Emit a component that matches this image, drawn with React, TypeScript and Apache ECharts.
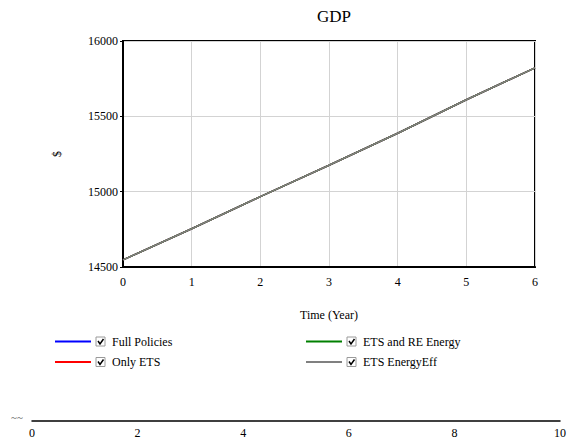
import React, { useEffect, useRef } from "react";
import * as echarts from "echarts";

const years = [0, 1, 2, 3, 4, 5, 6];
const fullPolicies = [14547, 14754, 14967, 15175, 15388, 15610, 15822];
const onlyETS = [14547, 14754, 14967, 15175, 15388, 15610, 15822];
const etsRE = [14547, 14754, 14967, 15175, 15388, 15610, 15822];
const etsEE = [14547, 14754, 14967, 15175, 15388, 15610, 15822];

const seriesNames = ["Full Policies", "Only ETS", "ETS and RE Energy", "ETS EnergyEff"];
const seriesColors = ["#0000ff", "#ff0000", "#008000", "#808080"];
const seriesData = [fullPolicies, onlyETS, etsRE, etsEE];

const FONT = "serif";

function legendItem(name: string, color: string, x: number, y: number) {
  return [
    {
      type: "line",
      shape: { x1: x, y1: y, x2: x + 36, y2: y },
      style: { stroke: color, lineWidth: 2 },
    },
    {
      type: "rect",
      shape: { x: x + 41, y: y - 4.5, width: 9, height: 9 },
      style: { fill: "#ffffff", stroke: "#9a9a9a", lineWidth: 1 },
    },
    {
      type: "polyline",
      shape: { points: [[x + 43, y - 0.5], [x + 45, y + 2.5], [x + 48.5, y - 2.5]] },
      style: { stroke: "#000000", lineWidth: 1.5, fill: null },
    },
    {
      type: "text",
      x: x + 57,
      y: y,
      style: {
        text: name,
        fill: "#000000",
        fontFamily: FONT,
        fontSize: 12,
        verticalAlign: "middle",
        align: "left",
      },
    },
  ];
}

export default function App() {
  const ref = useRef<HTMLDivElement>(null);

  useEffect(() => {
    if (!ref.current) return;
    const chart = echarts.init(ref.current, undefined, { renderer: "svg" });
    const legendPos = [
      [55, 341.5],
      [55, 362],
      [306, 341.5],
      [306, 362],
    ];
    const graphics: any[] = [];
    seriesNames.forEach((n, i) => {
      graphics.push(...legendItem(n, seriesColors[i], legendPos[i][0], legendPos[i][1]));
    });
    graphics.push({
      type: "text",
      x: 11,
      y: 417,
      style: { text: "~~", fill: "#555555", fontFamily: FONT, fontSize: 11, align: "left", verticalAlign: "middle" },
    });

    chart.setOption({
      animation: false,
      backgroundColor: "#ffffff",
      textStyle: { fontFamily: FONT },
      title: {
        text: "GDP",
        left: 329,
        top: 3,
        textAlign: "center",
        textStyle: { fontFamily: FONT, fontSize: 17, fontWeight: "normal", color: "#000" },
      },
      grid: [
        {
          left: 123,
          right: 36,
          top: 41,
          bottom: 173,
          show: true,
          borderColor: "#000",
          borderWidth: 2,
          backgroundColor: "transparent",
        },
        {
          left: 32,
          right: 11,
          top: 390,
          bottom: 19,
          show: false,
        },
      ],
      xAxis: [
        {
          gridIndex: 0,
          type: "value",
          min: 0,
          max: 6,
          interval: 1,
          name: "Time (Year)",
          nameLocation: "middle",
          nameGap: 42,
          nameTextStyle: { fontFamily: FONT, fontSize: 12, color: "#000" },
          axisLine: { show: true, lineStyle: { color: "#000", width: 2 } },
          axisTick: { show: false },
          axisLabel: { fontFamily: FONT, fontSize: 12, color: "#000", margin: 9 },
          splitLine: { show: true, lineStyle: { color: "#d3d3d3", width: 1 } },
        },
        {
          gridIndex: 1,
          type: "value",
          min: 0,
          max: 10,
          interval: 2,
          axisLine: { show: true, onZero: false, lineStyle: { color: "#000", width: 1.5 } },
          axisTick: { show: false },
          axisLabel: { fontFamily: FONT, fontSize: 12, color: "#000", margin: 6 },
          splitLine: { show: false },
        },
      ],
      yAxis: [
        {
          gridIndex: 0,
          type: "value",
          min: 14500,
          max: 16000,
          interval: 500,
          name: "$",
          nameLocation: "middle",
          nameGap: 60,
          nameRotate: 90,
          nameTextStyle: { fontFamily: FONT, fontSize: 12, color: "#000" },
          axisLine: { show: true, lineStyle: { color: "#000", width: 2 } },
          axisTick: { show: true, length: 3, lineStyle: { color: "#000", width: 1 } },
          axisLabel: {
            fontFamily: FONT,
            fontSize: 12,
            color: "#000",
            margin: 5,
            formatter: (v: number) => String(v),
          },
          splitLine: { show: true, lineStyle: { color: "#d3d3d3", width: 1 } },
        },
        {
          gridIndex: 1,
          type: "value",
          min: 0,
          max: 1,
          show: false,
        },
      ],
      series: [
        ...seriesNames.map((n, i) => ({
          name: n,
          type: "line",
          xAxisIndex: 0,
          yAxisIndex: 0,
          data: years.map((t, j) => [t, seriesData[i][j]]),
          showSymbol: false,
          lineStyle: { color: seriesColors[i], width: 1.5 },
          itemStyle: { color: seriesColors[i] },
          z: 2 + i,
        })),
        {
          name: "axis2",
          type: "line",
          xAxisIndex: 1,
          yAxisIndex: 1,
          data: [],
          showSymbol: false,
        },
      ],
      graphic: graphics,
    });
    return () => chart.dispose();
  }, []);

  return (
    <div
      ref={ref}
      style={{ position: "fixed", left: 0, top: 0, width: 571, height: 440 }}
    />
  );
}
